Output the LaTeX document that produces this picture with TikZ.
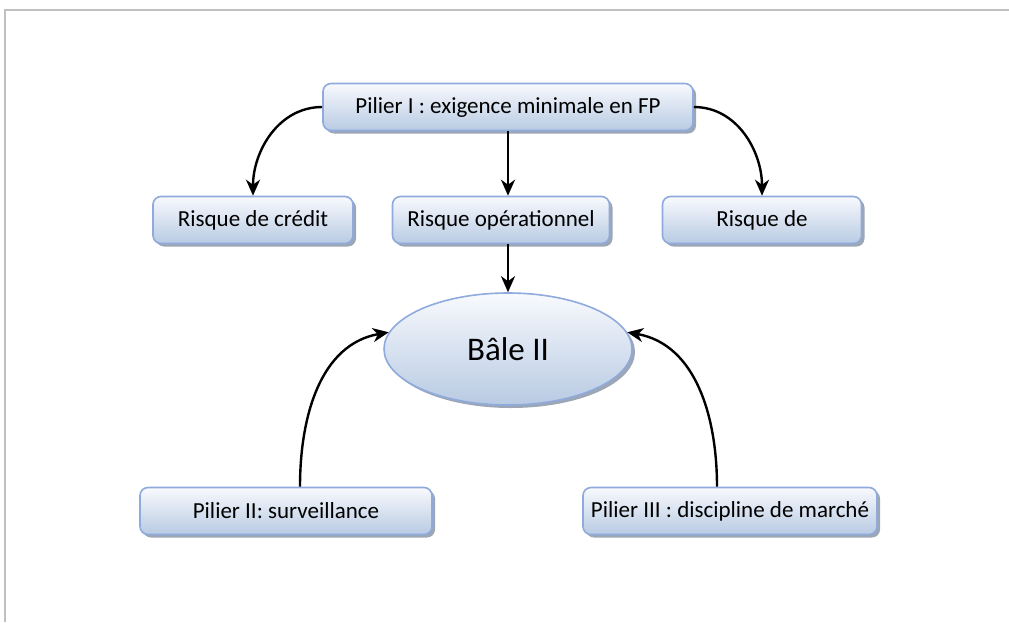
\documentclass[tikz,border=0pt]{standalone}
\usepackage{fontspec}
\setmainfont{Carlito}
\usetikzlibrary{shapes.geometric,shadows,arrows.meta,calc}
\definecolor{framegray}{HTML}{C0C0C0}
\definecolor{edgeblue}{HTML}{8FAADC}
\definecolor{topfill}{HTML}{F8FAFD}
\definecolor{botfill}{HTML}{B8CAE3}
\definecolor{shadowgray}{HTML}{8C97A8}
\begin{document}
\begin{tikzpicture}[x=1pt,y=-1pt,
  pillar/.style={draw=edgeblue, line width=1.6pt, rounded corners=8pt,
    top color=topfill, bottom color=botfill,
    drop shadow={shadow xshift=3pt,shadow yshift=-3pt,fill=shadowgray,opacity=0.85},
    font=\fontsize{23}{28}\selectfont, inner sep=0pt, minimum height=47pt},
  hub/.style={ellipse, draw=edgeblue, line width=1.6pt,
    top color=topfill, bottom color=botfill,
    drop shadow={shadow xshift=3pt,shadow yshift=-3pt,fill=shadowgray,opacity=0.85},
    font=\fontsize{33}{38}\selectfont, inner sep=0pt,
    minimum width=248pt, minimum height=112pt},
  link/.style={draw=black, line width=2.4pt,
    -{Stealth[length=16pt,width=14pt,inset=5pt]}}]
\useasboundingbox (0,0) rectangle (1009,622);
% page frame
\draw[framegray, line width=2pt] (1009,10) -- (5,10) -- (5,622);

% pillar I and its three risks
\node[pillar, minimum width=370pt] (p1) at (508,107) {Pilier I : exigence minimale en FP};
\node[pillar, minimum width=200pt] (cr) at (253,220) {Risque de crédit};
\node[pillar, minimum width=217pt] (op) at (501,220) {Risque opérationnel};
\node[pillar, minimum width=199pt] (rd) at (762,220) {Risque de};

% central accord
\node[hub] (bale) at (508,349) {Bâle II};

% pillars II and III
\node[pillar, minimum width=292pt] (p2) at (286,511) {Pilier II: surveillance};
\node[pillar, minimum width=294pt] (p3) at (730,511) {Pilier III : discipline de marché};

% connectors
\draw[link] (p1.west) to[out=180,in=90] (cr.north);
\draw[link] (p1.east) to[out=0,in=90] (rd.north);
\draw[link] (p1.south) -- (op.north -| p1.south);
\draw[link] (op.south -| bale.north) -- (bale.north);
\draw[link] ($(p2.north)+(14,0)$) to[out=90,in=190] (bale.172);
\draw[link] ($(p3.north)+(-13,0)$) to[out=90,in=-10] (bale.8);
\end{tikzpicture}
\end{document}
